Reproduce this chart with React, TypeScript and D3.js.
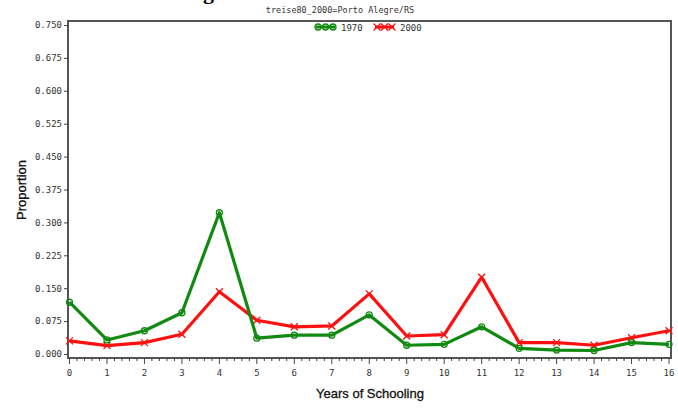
import { useEffect, useRef } from "react"
import * as d3 from "d3"

// Years of schooling (x axis)
const years = [0, 1, 2, 3, 4, 5, 6, 7, 8, 9, 10, 11, 12, 13, 14, 15, 16]
// proportion of people by years of schooling
const prop1970 = [0.118, 0.032, 0.053, 0.094, 0.322, 0.036, 0.043, 0.043, 0.089, 0.02, 0.022, 0.062, 0.013, 0.009, 0.008, 0.026, 0.022]
const prop2000 = [0.03, 0.019, 0.026, 0.045, 0.142, 0.077, 0.062, 0.064, 0.137, 0.041, 0.044, 0.175, 0.026, 0.026, 0.02, 0.037, 0.053]
const yTicks = [0, 0.075, 0.15, 0.225, 0.3, 0.375, 0.45, 0.525, 0.6, 0.675, 0.75]
const seriesNames = ["1970", "2000"]

const W = 678
const H = 408
const GREEN = "#118a11"
const RED = "#ff1010"
const MONO = "'DejaVu Sans Mono', monospace"

export default function App() {
  const svgRef = useRef<SVGSVGElement | null>(null)

  useEffect(() => {
    if (!svgRef.current) return
    const svg = d3.select(svgRef.current)
    svg.selectAll("*").remove()

    const x = d3.scaleLinear().domain([0, 16]).range([69.5, 669])
    const y = d3.scaleLinear().domain([0, 0.75]).range([354, 25])

    // cut-off caption at the very top
    svg.append("text").attr("x", 203).attr("y", -1)
      .attr("font-family", "'Liberation Serif', serif").attr("font-weight", "bold")
      .attr("font-size", 22).attr("fill", "#000").text("g")

    // title
    svg.append("text").attr("x", 340).attr("y", 13).attr("text-anchor", "middle")
      .attr("font-family", MONO).attr("font-size", 8.5).attr("fill", "#333")
      .text("treise80_2000=Porto Alegre/RS")

    // frame
    svg.append("rect").attr("x", 68).attr("y", 21).attr("width", 603).attr("height", 337)
      .attr("fill", "none").attr("stroke", "#555").attr("stroke-width", 2)

    // y axis
    const yAxis = d3.axisLeft(y).tickValues(yTicks).tickSize(4).tickFormat(d3.format(".3f"))
    const gy = svg.append("g").attr("transform", "translate(68,0)").call(yAxis)
    gy.select(".domain").remove()
    gy.selectAll("line").attr("stroke", "#444")
    gy.selectAll("text").attr("font-family", MONO).attr("font-size", 9).attr("fill", "#333").attr("x", -6)

    // x axis: major + minor ticks
    const minor = d3.range(0, 16.01, 0.2)
    svg.append("g").selectAll("line").data(minor).enter().append("line")
      .attr("x1", (d) => x(d)).attr("x2", (d) => x(d))
      .attr("y1", 358).attr("y2", (d) => (Math.abs(d - Math.round(d)) < 1e-6 ? 364 : 361))
      .attr("stroke", "#444").attr("stroke-width", 1)
    svg.append("g").selectAll("text").data(years).enter().append("text")
      .attr("x", (d) => x(d)).attr("y", 376).attr("text-anchor", "middle")
      .attr("font-family", MONO).attr("font-size", 9).attr("fill", "#333")
      .text((d) => String(d))

    // axis titles
    svg.append("text").attr("x", 370).attr("y", 398).attr("text-anchor", "middle")
      .attr("font-family", "'Liberation Sans', Arial, sans-serif").attr("font-size", 13)
      .attr("fill", "#111").attr("stroke", "#111").attr("stroke-width", 0.3)
      .text("Years of Schooling")
    svg.append("text").attr("transform", "translate(26,190) rotate(-90)").attr("text-anchor", "middle")
      .attr("font-family", "'Liberation Sans', Arial, sans-serif").attr("font-size", 13)
      .attr("fill", "#111").attr("stroke", "#111").attr("stroke-width", 0.3)
      .text("Proportion")

    const line = d3.line<number>().x((d, i) => x(years[i])).y((d) => y(d))

    const drawCircle = (g: any, cx: number, cy: number) => {
      g.append("circle").attr("cx", cx).attr("cy", cy).attr("r", 3)
        .attr("fill", "none").attr("stroke", GREEN).attr("stroke-width", 1.3)
    }
    const drawCross = (g: any, cx: number, cy: number) => {
      const s = 3.5
      g.append("path").attr("d", `M${cx - s},${cy - s}L${cx + s},${cy + s}M${cx - s},${cy + s}L${cx + s},${cy - s}`)
        .attr("stroke", RED).attr("stroke-width", 1.3)
    }

    const series = [
      { vals: prop2000, color: RED, mark: drawCross },
      { vals: prop1970, color: GREEN, mark: drawCircle },
    ]
    series.forEach((s) => {
      const g = svg.append("g")
      g.append("path").attr("d", line(s.vals)).attr("fill", "none")
        .attr("stroke", s.color).attr("stroke-width", 3.2).attr("stroke-linejoin", "round")
      s.vals.forEach((v, i) => s.mark(g, x(years[i]), y(v)))
    })

    // legend
    const leg = [
      { name: seriesNames[0], color: GREEN, mark: drawCircle, x0: 316 },
      { name: seriesNames[1], color: RED, mark: drawCross, x0: 375 },
    ]
    leg.forEach((l) => {
      const g = svg.append("g")
      g.append("line").attr("x1", l.x0).attr("x2", l.x0 + 19).attr("y1", 27).attr("y2", 27)
        .attr("stroke", l.color).attr("stroke-width", 3)
      ;[l.x0 + 2, l.x0 + 9.5, l.x0 + 17].forEach((cx) => l.mark(g, cx, 27))
      g.append("text").attr("x", l.x0 + 25).attr("y", 30.5)
        .attr("font-family", MONO).attr("font-size", 9).attr("fill", "#333").text(l.name)
    })
  }, [])

  return (
    <svg ref={svgRef} width={W} height={H}
      style={{ position: "fixed", left: 0, top: 0, background: "#fff" }} />
  )
}
